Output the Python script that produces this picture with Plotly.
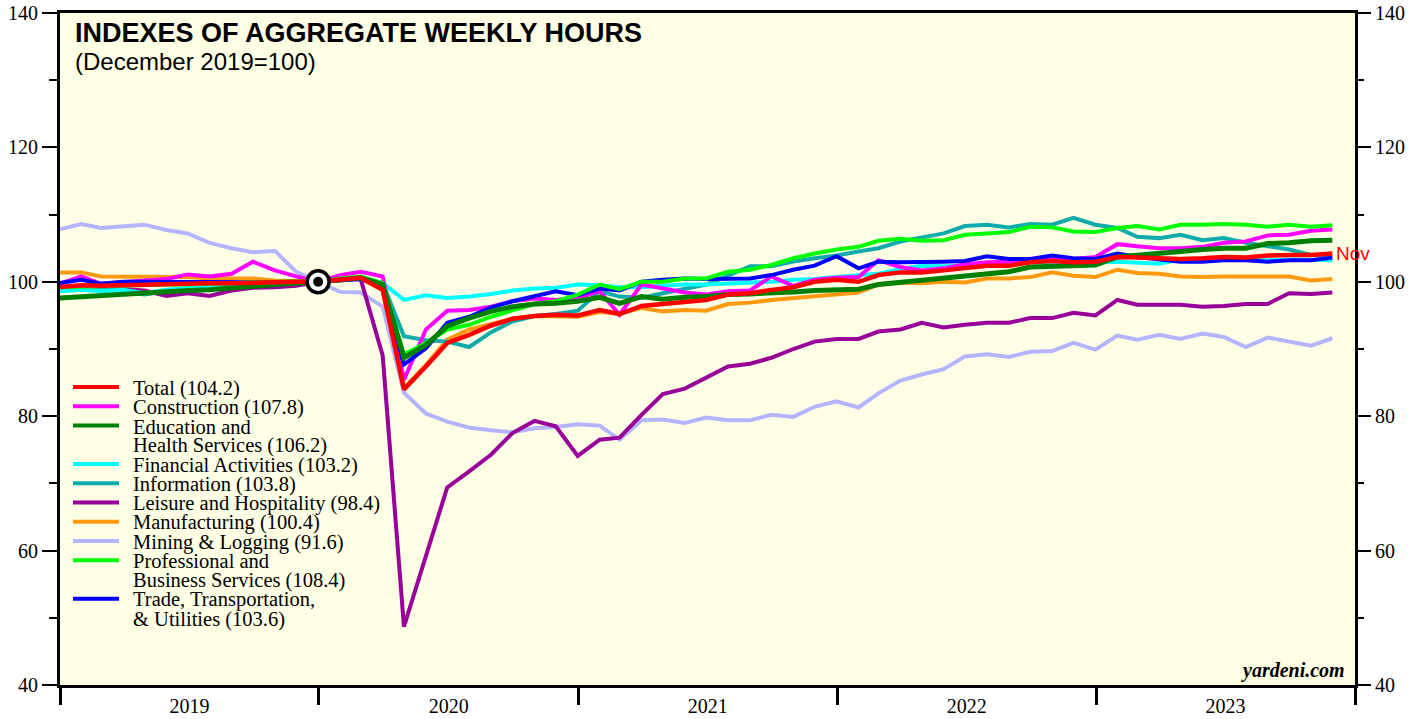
import pandas as pd
import plotly.graph_objects as go

# ---------------- data (monthly, Dec 2018 .. Nov 2023; Dec 2019 = 100) ----------------
months = pd.date_range("2018-12-01", periods=60, freq="MS") + pd.offsets.MonthEnd(0)

total = [99.2, 99.5, 99.4, 99.5, 99.6, 99.6, 99.7, 99.8, 99.8, 99.9, 99.9, 100.0, 100.0,
         100.3, 100.6, 98.8, 84.0, 87.4, 90.9, 92.1, 93.5, 94.5, 94.9, 95.1, 95.0, 95.8, 95.2,
         96.4, 96.7, 97.1, 97.3, 98.1, 98.3, 98.8, 99.2, 100.0, 100.3, 100.0, 101.0, 101.4,
         101.4, 101.7, 102.0, 102.4, 102.4, 102.9, 103.1, 102.9, 103.0, 103.7, 103.6, 103.5,
         103.4, 103.5, 103.7, 103.6, 103.9, 104.0, 104.0, 104.2]
construction = [99.7, 100.8, 99.7, 100.0, 100.2, 100.4, 101.1, 100.8, 101.2, 103.0, 101.7, 100.8, 100.0,
                101.0, 101.5, 100.8, 85.4, 92.9, 95.7, 95.8, 96.3, 97.1, 97.5, 97.3, 97.6, 98.6, 95.1,
                99.6, 99.0, 98.4, 98.1, 98.6, 98.7, 100.8, 99.4, 100.3, 100.6, 100.7, 103.2, 102.2,
                101.7, 102.0, 102.6, 102.9, 103.0, 103.1, 103.3, 103.4, 103.7, 105.6, 105.3, 105.0,
                105.0, 105.2, 105.8, 106.0, 106.9, 107.0, 107.6, 107.8]
education = [97.6, 97.8, 97.9, 98.2, 98.3, 98.6, 98.7, 98.8, 99.1, 99.4, 99.6, 99.8, 100.0,
             100.3, 100.6, 99.6, 88.7, 90.6, 93.4, 94.6, 95.6, 96.3, 96.7, 96.8, 97.1, 97.7, 96.8,
             97.8, 97.4, 97.7, 97.8, 98.1, 98.2, 98.3, 98.5, 98.7, 98.8, 98.9, 99.6, 99.9,
             100.2, 100.5, 100.9, 101.2, 101.5, 102.2, 102.3, 102.5, 102.5, 103.7, 103.9, 104.2,
             104.5, 104.8, 105.0, 105.0, 105.7, 105.8, 106.1, 106.2]
financial = [98.6, 98.8, 98.6, 98.8, 98.3, 98.8, 99.1, 99.1, 99.2, 99.4, 99.7, 99.9, 100.0,
             100.3, 100.4, 99.8, 97.3, 98.0, 97.6, 97.8, 98.2, 98.7, 99.0, 99.1, 99.6, 99.5, 99.2,
             99.2, 99.4, 99.6, 99.6, 99.7, 99.9, 100.0, 100.3, 100.4, 100.7, 101.0, 101.2, 101.9,
             102.4, 102.3, 102.4, 102.7, 102.8, 103.0, 103.0, 103.0, 102.9, 103.0, 102.9, 102.7,
             103.3, 103.2, 103.3, 103.2, 103.2, 103.3, 103.2, 103.2]
information = [99.0, 99.3, 99.0, 98.5, 98.1, 98.6, 99.0, 99.3, 99.4, 99.6, 99.7, 99.9, 100.0,
               100.4, 100.5, 99.8, 91.9, 91.3, 91.1, 90.3, 92.5, 94.1, 94.9, 95.2, 95.7, 98.6, 97.8,
               97.6, 98.3, 98.9, 99.6, 100.9, 102.3, 102.3, 103.0, 103.5, 103.9, 104.5, 105.0, 106.0,
               106.6, 107.2, 108.3, 108.5, 108.1, 108.6, 108.5, 109.5, 108.5, 108.0, 106.7, 106.5,
               107.0, 106.2, 106.5, 105.8, 105.3, 104.8, 104.0, 103.8]
leisure = [98.9, 99.3, 98.8, 98.9, 98.7, 97.9, 98.3, 97.9, 98.7, 99.1, 99.2, 99.4, 100.0,
           100.3, 100.4, 89.0, 48.7, 59.0, 69.4, 71.8, 74.3, 77.5, 79.3, 78.5, 74.1, 76.5, 76.8,
           80.2, 83.3, 84.1, 85.7, 87.4, 87.8, 88.7, 90.0, 91.1, 91.5, 91.5, 92.6, 92.9,
           93.9, 93.2, 93.6, 93.9, 93.9, 94.6, 94.6, 95.4, 95.0, 97.3, 96.6, 96.6,
           96.6, 96.3, 96.4, 96.7, 96.7, 98.3, 98.2, 98.4]
manufacturing = [101.4, 101.4, 100.8, 100.8, 100.8, 100.7, 100.7, 100.5, 100.5, 100.5, 100.2, 100.1, 100.0,
                 100.2, 100.5, 98.8, 84.2, 87.6, 91.4, 92.9, 93.7, 94.5, 94.9, 94.9, 94.8, 95.5, 95.3,
                 96.1, 95.6, 95.8, 95.7, 96.7, 96.9, 97.3, 97.6, 97.9, 98.2, 98.4, 99.6, 99.9,
                 99.8, 100.0, 99.9, 100.5, 100.5, 100.7, 101.4, 100.9, 100.7, 101.8, 101.3, 101.2,
                 100.8, 100.7, 100.8, 100.8, 100.7, 100.8, 100.2, 100.4]
mining = [107.8, 108.6, 108.0, 108.3, 108.5, 107.7, 107.2, 105.8, 105.0, 104.4, 104.6, 101.5, 100.0,
          98.5, 98.4, 96.3, 83.5, 80.4, 79.2, 78.3, 77.9, 77.6, 78.2, 78.4, 78.8, 78.6, 76.5,
          79.4, 79.5, 79.0, 79.8, 79.4, 79.4, 80.2, 79.9, 81.4, 82.2, 81.3, 83.4, 85.3,
          86.2, 87.0, 88.9, 89.2, 88.8, 89.6, 89.7, 90.9, 89.9, 92.0, 91.4, 92.1,
          91.5, 92.3, 91.8, 90.3, 91.7, 91.1, 90.5, 91.6]
professional = [99.2, 99.3, 99.3, 99.4, 99.5, 99.6, 99.6, 99.7, 99.8, 99.9, 100.0, 100.1, 100.0,
                100.5, 100.8, 99.8, 89.2, 90.9, 92.9, 93.6, 94.8, 95.8, 96.7, 97.1, 98.1, 99.6, 98.9,
                100.0, 100.0, 100.5, 100.5, 101.5, 101.8, 102.5, 103.5, 104.2, 104.8, 105.2, 106.1, 106.4,
                106.1, 106.2, 107.0, 107.2, 107.4, 108.2, 108.1, 107.5, 107.4, 108.0, 108.3, 107.8,
                108.5, 108.5, 108.6, 108.5, 108.2, 108.5, 108.2, 108.4]
trade = [99.8, 100.3, 99.7, 100.0, 100.0, 100.0, 100.0, 99.9, 100.0, 100.0, 99.9, 99.8, 100.0,
         100.2, 100.4, 99.4, 87.7, 90.1, 93.9, 94.8, 96.2, 97.1, 97.9, 98.6, 98.0, 99.0, 98.7,
         100.0, 100.3, 100.5, 100.4, 100.5, 100.5, 101.0, 101.8, 102.4, 103.8, 102.0, 103.0, 102.9,
         102.9, 103.0, 103.1, 103.8, 103.4, 103.4, 103.9, 103.5, 103.4, 104.2, 103.7, 103.3,
         103.0, 103.0, 103.2, 103.2, 103.0, 103.2, 103.2, 103.6]

series_names = ["Total", "Construction", "Education and Health Services", "Financial Activities",
                "Information", "Leisure and Hospitality", "Manufacturing", "Mining & Logging",
                "Professional and Business Services", "Trade, Transportation, & Utilities"]
legend_lines = [["Total (104.2)"], ["Construction (107.8)"], ["Education and", "Health Services (106.2)"],
                ["Financial Activities (103.2)"], ["Information (103.8)"], ["Leisure and Hospitality (98.4)"],
                ["Manufacturing (100.4)"], ["Mining & Logging (91.6)"],
                ["Professional and", "Business Services (108.4)"],
                ["Trade, Transportation,", "& Utilities (103.6)"]]
series_values = [total, construction, education, financial, information, leisure,
                 manufacturing, mining, professional, trade]
series_colors = ["#FF0000", "#FF00FF", "#008000", "#00FFFF", "#10ACAC", "#990099",
                 "#FF9A10", "#B4B4FF", "#00FF00", "#0000FF"]
series_widths = [4.5, 4, 5, 4, 4, 4, 4, 4, 4, 4]
draw_order = [7, 5, 6, 4, 3, 1, 9, 8, 2, 0]
base_index = 12  # December 2019 = 100
year_labels = ["2019", "2020", "2021", "2022", "2023"]

# ---------------- layout geometry (px) ----------------
W, H = 1426, 719
L, R, T, B = 60, 71, 13, 34
PW, PH = W - L - R, H - T - B
SERIF = "Liberation Serif, Times New Roman, serif"
SANS = "Liberation Sans, Arial, sans-serif"


def px_x(x):
    return (x - L) / PW


def px_y(y):
    return (H - B - y) / PH


fig = go.Figure()
for k in draw_order:
    fig.add_trace(go.Scatter(x=months, y=series_values[k], mode="lines", name=series_names[k],
                             line=dict(color=series_colors[k], width=series_widths[k]),
                             showlegend=False))

# base-month marker (bullseye)
fig.add_trace(go.Scatter(x=[months[base_index]], y=[total[base_index]], mode="markers",
                         marker=dict(size=22, color="white", line=dict(color="black", width=3.5)),
                         showlegend=False, hoverinfo="skip"))
fig.add_trace(go.Scatter(x=[months[base_index]], y=[total[base_index]], mode="markers",
                         marker=dict(size=10, color="black"), showlegend=False, hoverinfo="skip"))
# invisible trace to activate right axis
fig.add_trace(go.Scatter(x=months, y=total, yaxis="y2", mode="lines", line=dict(width=0),
                         showlegend=False, hoverinfo="skip"))

# ---------------- custom legend ----------------
shapes = []
annotations = []
line_y0, line_step = 388, 19.25
idx = 0
for k, lines in enumerate(legend_lines):
    yk = line_y0 + idx * line_step
    shapes.append(dict(type="line", xref="paper", yref="paper", x0=px_x(73), x1=px_x(119),
                       y0=px_y(yk - 1), y1=px_y(yk - 1),
                       line=dict(color=series_colors[k], width=4)))
    for ln in lines:
        annotations.append(dict(xref="paper", yref="paper", x=px_x(131), y=px_y(line_y0 + idx * line_step),
                                xanchor="left", yanchor="middle", text=ln, showarrow=False,
                                font=dict(family=SERIF, size=20.5, color="black")))
        idx += 1

annotations += [
    dict(xref="paper", yref="paper", x=px_x(73), y=px_y(33), xanchor="left", yanchor="middle",
         text="<b>INDEXES OF AGGREGATE WEEKLY HOURS</b>", showarrow=False,
         font=dict(family=SANS, size=27, color="black")),
    dict(xref="paper", yref="paper", x=px_x(73), y=px_y(62), xanchor="left", yanchor="middle",
         text="(December 2019=100)", showarrow=False,
         font=dict(family=SANS, size=24, color="black")),
    dict(xref="paper", yref="paper", x=px_x(1347), y=px_y(670), xanchor="right", yanchor="middle",
         text="<b><i>yardeni.com</i></b>", showarrow=False,
         font=dict(family=SERIF, size=20, color="black")),
    dict(x=months[-1], y=total[-1], xanchor="left", yanchor="middle", xshift=2,
         text="Nov", showarrow=False, font=dict(family=SANS, size=19, color="#FF0000")),
]

yaxis_common = dict(range=[40, 140], dtick=20, tick0=40, ticks="outside", ticklen=15, tickwidth=2,
                    tickcolor="black", showgrid=False, zeroline=False, automargin=False,
                    tickfont=dict(family=SERIF, size=20, color="black"),
                    minor=dict(dtick=10, tick0=40, ticks="outside", ticklen=8, tickwidth=2,
                               tickcolor="black", showgrid=False))

fig.update_layout(
    width=W, height=H,
    margin=dict(l=L, r=R, t=T, b=B, pad=0, autoexpand=False),
    paper_bgcolor="white",
    plot_bgcolor="#FFFFE6",
    showlegend=False,
    xaxis=dict(type="date", range=["2019-01-01", "2024-01-01"], dtick="M12", tick0="2019-01-01",
               ticklabelmode="period", tickformat="%Y", ticks="outside", ticklen=17, tickwidth=3,
               tickcolor="black", showline=True, linewidth=3, linecolor="black", mirror=True,
               showgrid=False, zeroline=False, ticklabelstandoff=-16, automargin=False,
               tickfont=dict(family=SERIF, size=20, color="black")),
    yaxis=dict(showline=True, linewidth=3, linecolor="black", mirror=True, **yaxis_common),
    yaxis2=dict(overlaying="y", side="right", showline=False, **yaxis_common),
    shapes=shapes,
    annotations=annotations,
)

fig.write_html("out.html", config={"displayModeBar": False},
               post_script="document.body.style.margin='0';")
